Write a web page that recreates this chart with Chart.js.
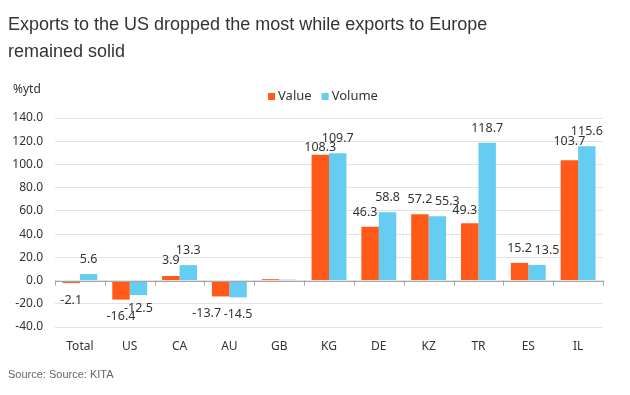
<!DOCTYPE html>
<html lang="en">
<head>
    <meta charset="UTF-8">
    <title>Exports to the US dropped the most</title>
    <script src="https://cdn.jsdelivr.net/npm/chart.js"></script>
    <style>
        body {
            margin: 0;
            padding: 0;
            background: #fff;
            width: 630px;
            height: 395px;
            position: relative;
            overflow: hidden;
        }
        .title {
            position: absolute;
            left: 8px;
            top: 11px;
            font-family: "Liberation Sans", Arial, sans-serif;
            font-size: 18px;
            line-height: 27px;
            color: #333;
        }
        .unit {
            position: absolute;
            left: 13px;
            top: 80px;
            font-family: "Noto Sans", sans-serif;
            font-size: 12px;
            color: #333;
        }
        .source {
            position: absolute;
            left: 8px;
            top: 368px;
            font-family: "Liberation Sans", Arial, sans-serif;
            font-size: 11px;
            color: #666;
        }
        #wrap {
            position: absolute;
            left: 0;
            top: 0;
            width: 630px;
            height: 395px;
        }
    </style>
</head>
<body>
    <div id="wrap"><canvas id="exportsChart"></canvas></div>
    <div class="title">Exports to the US dropped the most while exports to Europe<br>remained solid</div>
    <div class="unit">%ytd</div>
    <div class="source">Source: Source: KITA</div>

    <script>
        // data
        const countries = ['Total', 'US', 'CA', 'AU', 'GB', 'KG', 'DE', 'KZ', 'TR', 'ES', 'IL'];
        const valueGrowth = [-2.1, -16.4, 3.9, -13.7, 1.2, 108.3, 46.3, 57.2, 49.3, 15.2, 103.7];
        const volumeGrowth = [5.6, -12.5, 13.3, -14.5, 0.8, 109.7, 58.8, 55.3, 118.7, 13.5, 115.6];
        const unlabelled = ['GB'];
        const yTicks = [-40, -20, 0, 20, 40, 60, 80, 100, 120, 140];

        const ORANGE = '#ff5a1a';
        const BLUE = '#66cdf2';
        const FONT = '"Noto Sans", sans-serif';

        function hits(a, b) {
            return a.l < b.r && a.r > b.l && a.t < b.b && a.b > b.t;
        }

        // small square legend centred over the plot
        const squareLegend = {
            id: 'squareLegend',
            afterDraw(chart) {
                const ctx = chart.ctx;
                const area = chart.chartArea;
                ctx.save();
                ctx.font = '13px ' + FONT;
                ctx.textBaseline = 'middle';
                ctx.textAlign = 'left';
                const items = chart.data.datasets.map(ds => ({
                    text: ds.label, color: ds.backgroundColor, w: ctx.measureText(ds.label).width
                }));
                const total = items.reduce((s, it) => s + 10 + it.w, 0) + 10 * (items.length - 1);
                let cx = (area.left + area.right) / 2 - 6 - total / 2;
                const cy = area.top - 22;
                items.forEach(it => {
                    ctx.fillStyle = it.color;
                    ctx.fillRect(cx, cy - 3, 7, 7);
                    ctx.fillStyle = '#333';
                    ctx.fillText(it.text, cx + 10, cy);
                    cx += 10 + it.w + 10;
                });
                ctx.restore();
            }
        };

        // value labels: over/under each bar, nudged to the cheapest free spot if they collide
        const barLabels = {
            id: 'barLabels',
            afterDatasetsDraw(chart) {
                const ctx = chart.ctx;
                const x = chart.scales.x;
                const y = chart.scales.y;
                const zero = y.getPixelForValue(0);
                const area = chart.chartArea;

                ctx.save();
                ctx.strokeStyle = '#a6a6a6';
                ctx.lineWidth = 1;
                ctx.beginPath();
                ctx.moveTo(area.left, Math.round(zero) + 0.5);
                ctx.lineTo(area.right, Math.round(zero) + 0.5);
                const step = (area.right - area.left) / countries.length;
                for (let i = 0; i <= countries.length; i++) {
                    const px = Math.round(x.getPixelForValue(0) - step / 2 + i * step) + 0.5;
                    ctx.moveTo(px, zero);
                    ctx.lineTo(px, zero + 5);
                }
                ctx.stroke();

                ctx.font = '12.5px ' + FONT;
                ctx.fillStyle = '#333';
                ctx.textAlign = 'center';
                ctx.textBaseline = 'middle';

                const metas = chart.data.datasets.map((ds, di) => chart.getDatasetMeta(di));
                const boxes = [];
                metas.forEach(m => m.data.forEach(bar => {
                    const p = bar.getProps(['x', 'y', 'base', 'width']);
                    boxes.push({ l: p.x - p.width / 2, r: p.x + p.width / 2,
                                 t: Math.min(p.y, p.base), b: Math.max(p.y, p.base) });
                }));

                countries.forEach((c, i) => {
                    if (unlabelled.includes(c)) return;
                    const order = [0, 1].sort((a, b) =>
                        Math.abs(chart.data.datasets[b].data[i]) - Math.abs(chart.data.datasets[a].data[i]));
                    order.forEach(di => {
                        const v = chart.data.datasets[di].data[i];
                        const txt = v.toFixed(1);
                        const bar = metas[di].data[i];
                        const w = ctx.measureText(txt).width;
                        const cy = v >= 0 ? bar.y - 14.5 : bar.y + 17;
                        let best = null;
                        for (let dy = -20; dy <= 20; dy++) {
                            for (let dx = -30; dx <= 30; dx++) {
                                const cost = Math.abs(dx) + 1.9 * Math.abs(dy);
                                if (best && cost >= best.cost) continue;
                                const box = { l: bar.x + dx - w / 2 - 1, r: bar.x + dx + w / 2 + 1,
                                              t: cy + dy - 4.2, b: cy + dy + 4.2 };
                                if (boxes.some(o => hits(box, o))) continue;
                                best = { cost, dx, dy, box };
                            }
                        }
                        if (!best) best = { dx: 0, dy: 0, box: null };
                        if (best.box) boxes.push(best.box);
                        ctx.fillText(txt, bar.x + best.dx, cy + best.dy);
                    });
                });
                ctx.restore();
            }
        };

        new Chart(document.getElementById('exportsChart'), {
            type: 'bar',
            data: {
                labels: countries,
                datasets: [
                    {
                        label: 'Value',
                        data: valueGrowth,
                        backgroundColor: ORANGE,
                        categoryPercentage: 0.7,
                        barPercentage: 1.0
                    },
                    {
                        label: 'Volume',
                        data: volumeGrowth,
                        backgroundColor: BLUE,
                        categoryPercentage: 0.7,
                        barPercentage: 1.0
                    }
                ]
            },
            options: {
                responsive: true,
                maintainAspectRatio: false,
                animation: false,
                layout: {
                    padding: { top: 118, right: 27, bottom: 38, left: 0 }
                },
                plugins: {
                    legend: { display: false },
                    tooltip: { enabled: false }
                },
                scales: {
                    x: {
                        grid: { display: false, drawTicks: false },
                        border: { display: false },
                        ticks: {
                            color: '#333',
                            padding: 12,
                            font: { family: FONT, size: 12 }
                        },
                        afterFit(scale) { scale.height = 30; }
                    },
                    y: {
                        min: -40,
                        max: 140,
                        afterBuildTicks(scale) {
                            scale.ticks = yTicks.map(v => ({ value: v }));
                        },
                        grid: {
                            color: '#e3e3e3',
                            drawTicks: false
                        },
                        border: { display: false },
                        ticks: {
                            color: '#333',
                            padding: 12,
                            font: { family: FONT, size: 12 },
                            callback: v => v.toFixed(1)
                        },
                        afterFit(scale) { scale.width = 55; }
                    }
                }
            },
            plugins: [barLabels, squareLegend]
        });
    </script>
</body>
</html>
